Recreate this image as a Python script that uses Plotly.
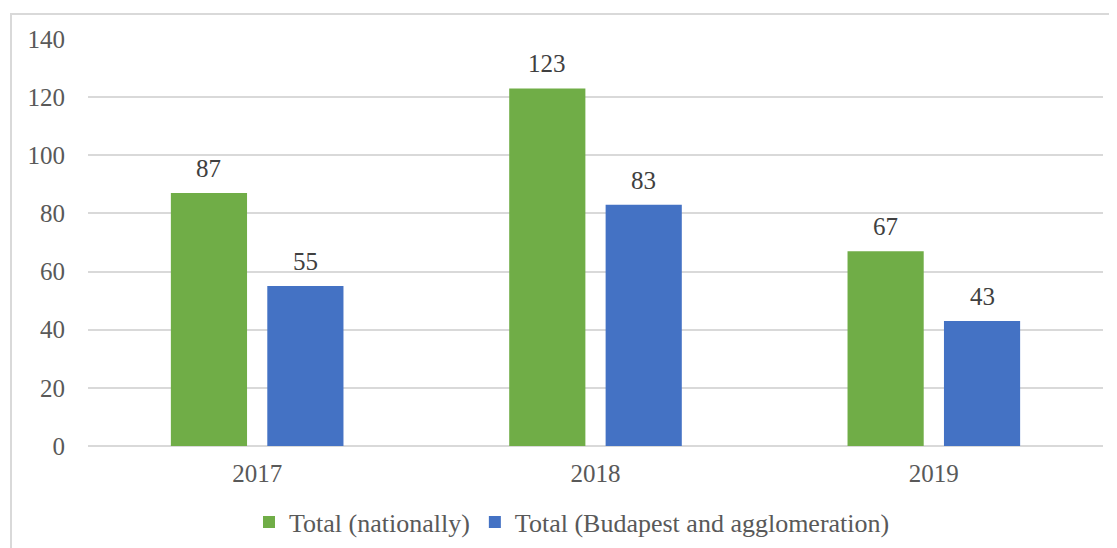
import plotly.graph_objects as go

years = ["2017", "2018", "2019"]
national = [87, 123, 67]
budapest = [55, 83, 43]
series_names = ["Total (nationally)", "Total (Budapest and agglomeration)"]
colors = ["#70AD47", "#4472C4"]

OFF = 8  # page body margin
W, H = 1117, 548
L, R, T, B = 88 - OFF, 22, 39 - OFF, 109
pw, ph = W - L - R, H - T - B

def px_x(p):
    return (p - OFF - L) / pw

def px_y(p):
    return (H - B - (p - OFF)) / ph

font = "Liberation Serif"
FS = 25
BARGAP, GROUPGAP = 0.43, 0.21
slot = (1 - BARGAP) / 2

fig = go.Figure()
annotations = []
for k, (name, vals, c) in enumerate(zip(series_names, [national, budapest], colors)):
    fig.add_trace(go.Bar(x=years, y=vals, name=name, marker_color=c,
                         marker_line_width=0))
    off = (k - 0.5) * slot
    for i, v in enumerate(vals):
        annotations.append(dict(x=i + off, y=v, xref="x", yref="y", text=str(v),
                                showarrow=False, yanchor="bottom", yshift=9,
                                font=dict(family=font, size=FS, color="#404040")))

fig.update_layout(
    width=W, height=H,
    margin=dict(l=L, r=R, t=T, b=B),
    paper_bgcolor="white", plot_bgcolor="white",
    barmode="group", bargap=BARGAP, bargroupgap=GROUPGAP,
    font=dict(family=font, size=FS, color="#595959"),
    showlegend=True,
    legend=dict(orientation="h", x=px_x(572), xanchor="center",
                y=px_y(522), yanchor="middle",
                font=dict(family=font, size=26, color="#595959"),
                itemwidth=30, traceorder="normal"),
    xaxis=dict(showline=False, ticks="", tickfont=dict(size=FS),
               ticklabelstandoff=10),
    yaxis=dict(range=[0, 140], dtick=20, showgrid=True, gridcolor="#D9D9D9",
               gridwidth=1.5, zeroline=True, zerolinecolor="#D9D9D9",
               zerolinewidth=1.5, showline=False, ticks="",
               ticklabelstandoff=22, tickfont=dict(size=FS)),
    annotations=annotations,
    shapes=[dict(type="rect", xref="paper", yref="paper",
                 x0=px_x(11), x1=px_x(1140), y0=px_y(580), y1=px_y(14),
                 line=dict(color="#D9D9D9", width=2), layer="below")],
)
fig.write_html("out.html")
